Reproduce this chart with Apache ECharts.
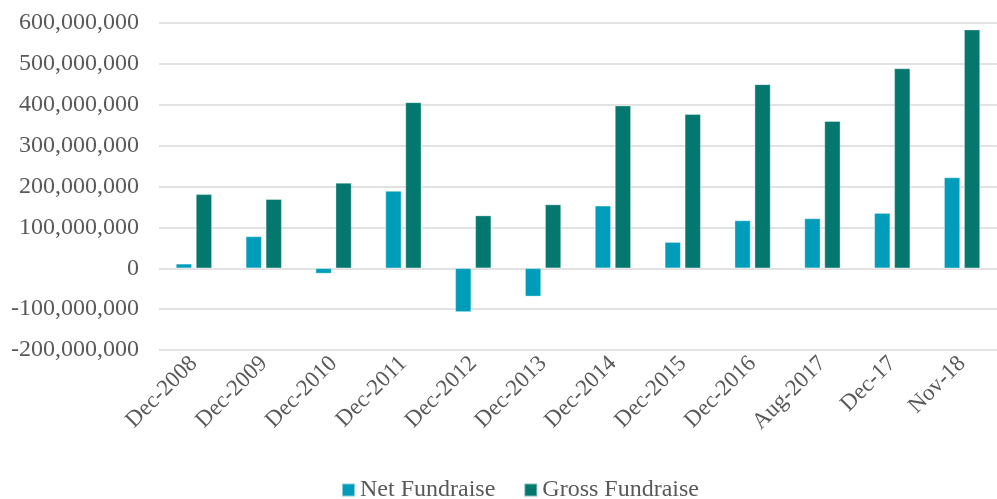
<!DOCTYPE html>
<html>
<head>
<meta charset="utf-8">
<script src="https://cdn.jsdelivr.net/npm/echarts@6/dist/echarts.min.js"></script>
<style>html,body{margin:0;padding:0;background:#fff}#c{width:997px;height:499px}</style>
</head>
<body>
<div id="c"></div>
<script>
const categories = ["Dec-2008","Dec-2009","Dec-2010","Dec-2011","Dec-2012","Dec-2013","Dec-2014","Dec-2015","Dec-2016","Aug-2017","Dec-17","Nov-18"];
const netFundraise = [11e6, 78e6, -13e6, 189e6, -107e6, -69e6, 153e6, 64e6, 117e6, 122e6, 135e6, 222e6];
const grossFundraise = [181e6, 169e6, 209e6, 406e6, 129e6, 156e6, 398e6, 377e6, 450e6, 360e6, 489e6, 584e6];
const seriesNames = ["Net Fundraise", "Gross Fundraise"];

const font = "'Liberation Serif', 'Times New Roman', serif";
const chart = echarts.init(document.getElementById('c'));
chart.setOption({
  animation: false,
  textStyle: {fontFamily: font},
  grid: {left: 159, right: 0, top: 23, bottom: 149, containLabel: false},
  legend: {
    bottom: -8, left: 336, itemWidth: 13, itemHeight: 13, itemGap: 28,
    icon: 'rect',
    textStyle: {fontFamily: font, fontSize: 24, color: '#595959'},
    data: seriesNames
  },
  xAxis: {
    type: 'category', data: categories,
    axisLine: {show: false}, axisTick: {show: false},
    axisLabel: {rotate: 45, interval: 0, fontFamily: font, fontSize: 23, color: '#595959', margin: 10}
  },
  yAxis: {
    type: 'value', min: -200e6, max: 600e6, interval: 100e6,
    axisLine: {show: false}, axisTick: {show: false},
    splitLine: {lineStyle: {color: '#d9d9d9', width: 1.5}},
    axisLabel: {fontFamily: font, fontSize: 24, color: '#595959', margin: 20,
      formatter: v => v.toLocaleString('en-US')}
  },
  series: [
    {name: seriesNames[0], type: 'bar', data: netFundraise, barWidth: 16, barGap: '25%',
     itemStyle: {color: '#009DBA', borderColor: 'rgba(255,255,255,0.5)', borderWidth: 0.7}},
    {name: seriesNames[1], type: 'bar', data: grossFundraise, barWidth: 16,
     itemStyle: {color: '#04786E', borderColor: 'rgba(255,255,255,0.5)', borderWidth: 0.7}}
  ]
});
</script>
</body>
</html>
